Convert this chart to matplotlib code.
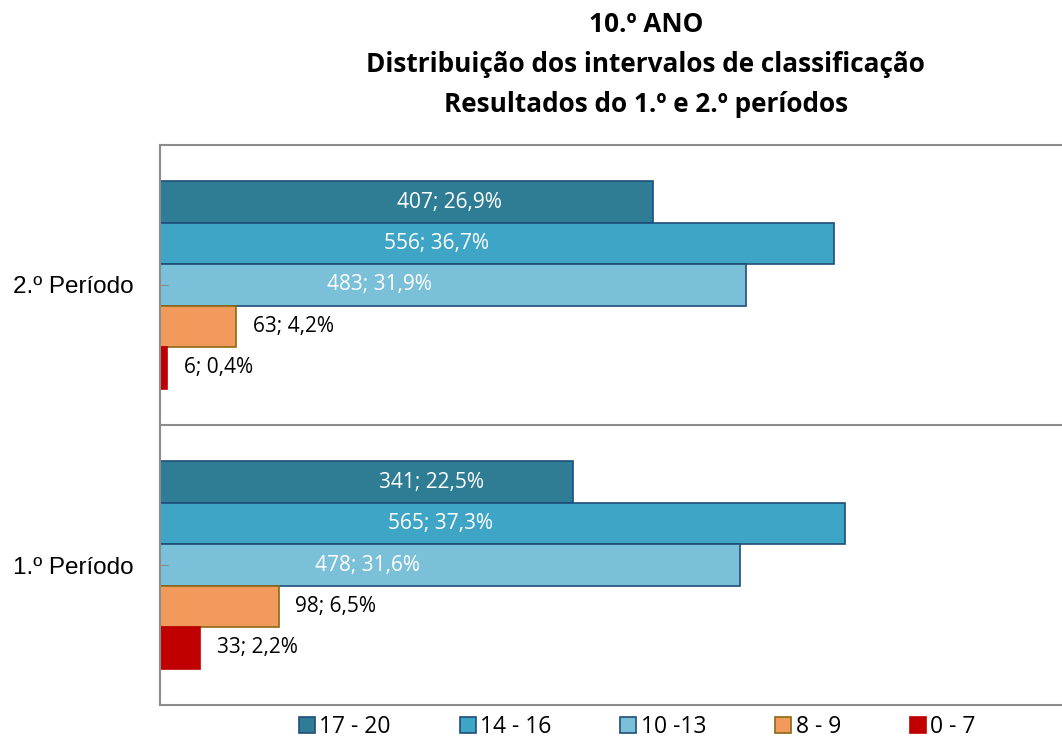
import numpy as np
import matplotlib.pyplot as plt
from matplotlib.patches import Patch

# dados
periodos = ["1.º Período", "2.º Período"]
intervalos = ["17 - 20", "14 - 16", "10 -13", "8 - 9", "0 - 7"]
valores = {
    "1.º Período": [341, 565, 478, 98, 33],
    "2.º Período": [407, 556, 483, 63, 6],
}
percent = {
    "1.º Período": ["22,5%", "37,3%", "31,6%", "6,5%", "2,2%"],
    "2.º Período": ["26,9%", "36,7%", "31,9%", "4,2%", "0,4%"],
}
# centro dos rótulos (posição manual no original) para as barras grandes
label_x = {
    "1.º Período": [224, 231, 171, None, None],
    "2.º Período": [239, 228, 181, None, None],
}

cores = ["#2E7D95", "#3FA5C6", "#7AC0D8", "#F29A5C", "#C00000"]
bordas = ["#1F4E79", "#1F4E79", "#1F4E79", "#8B6914", "#C00000"]
cor_texto = ["white", "white", "white", "black", "black"]

fig = plt.figure(figsize=(10.62, 7.42), dpi=100)
ax = fig.add_axes([160/1062, 1-705/742, 1-160/1062, 560/742])

h = 0.148
for gi, p in enumerate(periodos):
    for k in range(5):
        y = gi + (2 - k) * h
        v = valores[p][k]
        ax.barh(y, v, height=h, color=cores[k], edgecolor=bordas[k], linewidth=1.2)
        txt = f"{v}; {percent[p][k]}"
        lx = label_x[p][k]
        if lx is not None:
            ax.text(lx, y, txt, ha="center", va="center", color=cor_texto[k],
                    fontsize=15, family="Open Sans")
        else:
            ax.annotate(txt, (v, y), xytext=(12, 0), textcoords="offset points",
                        ha="left", va="center", color=cor_texto[k],
                        fontsize=15, family="Open Sans")

ax.set_xlim(0, 744)
ax.set_ylim(-0.5, 1.5)
ax.set_xticks([])
ax.set_yticks([0, 1])
ax.set_yticklabels(periodos, fontsize=17.5, family="Liberation Sans")
ax.tick_params(axis="y", direction="in", length=6, color="#8C8C8C", pad=19)
ax.axhline(0.5, color="#8C8C8C", linewidth=1.5)
for s in ["left", "top", "bottom"]:
    ax.spines[s].set_color("#8C8C8C")
    ax.spines[s].set_linewidth(1.5)
ax.spines["right"].set_visible(False)

fig.text(0.608, 0.985, "10.º ANO\nDistribuição dos intervalos de classificação\nResultados do 1.º e 2.º períodos",
         ha="center", va="top", fontsize=18.8, fontweight="bold", family="Open Sans",
         linespacing=1.62)

handles = [Patch(facecolor=cores[k], edgecolor=bordas[k], linewidth=1.2) for k in range(5)]
fig.legend(handles, intervalos, loc="center", bbox_to_anchor=(0.6, 0.02), ncol=5,
           frameon=False, prop={"family": "Open Sans", "size": 16.5},
           handlelength=0.7, handleheight=0.7, handletextpad=0.2, columnspacing=3.0,
           borderpad=0.1)

fig.savefig("out.png", dpi=100)
